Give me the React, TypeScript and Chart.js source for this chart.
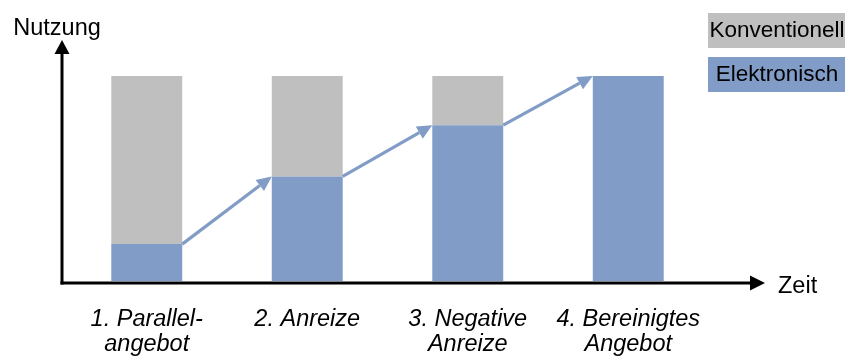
import React, { useEffect, useRef } from 'react';
import { Chart, registerables } from 'chart.js';

Chart.register(...registerables);

const categories: (string | string[])[] = [
  ['1. Parallel-', 'angebot'],
  '2. Anreize',
  ['3. Negative', 'Anreize'],
  ['4. Bereinigtes', 'Angebot'],
];
const elektronisch = [18, 51, 76, 100];
const konventionell = [82, 49, 24, 0];
const seriesNames = ['Elektronisch', 'Konventionell'];
const yAxisTitle = 'Nutzung';
const xAxisTitle = 'Zeit';

const BLUE = '#819cc6';
const GRAY = '#bfbfbf';
const FONT = '"Liberation Sans", Arial, Helvetica, sans-serif';

function drawArrow(ctx: CanvasRenderingContext2D, x1: number, y1: number, x2: number, y2: number, len: number, hw: number) {
  const ang = Math.atan2(y2 - y1, x2 - x1);
  const c = Math.cos(ang), s = Math.sin(ang);
  const bx = x2 - len * c, by = y2 - len * s;
  ctx.beginPath();
  ctx.moveTo(x1, y1);
  ctx.lineTo(bx, by);
  ctx.stroke();
  ctx.beginPath();
  ctx.moveTo(x2, y2);
  ctx.lineTo(bx - hw * s, by + hw * c);
  ctx.lineTo(bx + hw * s, by - hw * c);
  ctx.closePath();
  ctx.fill();
}

const overlay = {
  id: 'overlay',
  afterDatasetsDraw(chart: any) {
    const ctx: CanvasRenderingContext2D = chart.ctx;
    const { left, bottom } = chart.chartArea;
    ctx.save();
    // arrows between blue bars
    const meta = chart.getDatasetMeta(0);
    ctx.strokeStyle = BLUE;
    ctx.fillStyle = BLUE;
    ctx.lineWidth = 3.2;
    ctx.lineCap = 'butt';
    for (let i = 0; i < meta.data.length - 1; i++) {
      const a = meta.data[i];
      const b = meta.data[i + 1];
      drawArrow(ctx, a.x + a.width / 2, a.y, b.x - b.width / 2, b.y, 15, 7);
    }
    // axes
    const ax = left - 4.5;
    const ay = bottom + 2;
    ctx.strokeStyle = '#000';
    ctx.fillStyle = '#000';
    ctx.lineWidth = 3;
    ctx.beginPath();
    ctx.moveTo(ax, ay + 1.5);
    ctx.lineTo(ax, 54);
    ctx.stroke();
    ctx.beginPath();
    ctx.moveTo(ax, 40);
    ctx.lineTo(ax - 7.5, 54);
    ctx.lineTo(ax + 7.5, 54);
    ctx.closePath();
    ctx.fill();
    ctx.beginPath();
    ctx.moveTo(ax - 1.5, ay);
    ctx.lineTo(751, ay);
    ctx.stroke();
    ctx.beginPath();
    ctx.moveTo(765, ay);
    ctx.lineTo(750, ay - 7.5);
    ctx.lineTo(750, ay + 7.5);
    ctx.closePath();
    ctx.fill();
    // axis titles
    ctx.font = `23.5px ${FONT}`;
    ctx.textBaseline = 'alphabetic';
    ctx.textAlign = 'center';
    ctx.fillText(yAxisTitle, 57, 35);
    ctx.textAlign = 'left';
    ctx.fillText(xAxisTitle, 778, 293);
    // legend boxes
    ctx.font = `22.5px ${FONT}`;
    const ds = chart.data.datasets;
    const items = [ds[1], ds[0]];
    items.forEach((d: any, k: number) => {
      const y = 13 + k * 44;
      ctx.fillStyle = d.backgroundColor;
      ctx.fillRect(708, y, 137, 35);
      ctx.fillStyle = '#000';
      ctx.textAlign = 'center';
      ctx.textBaseline = 'middle';
      ctx.fillText(d.label, 777, y + 18);
    });
    ctx.restore();
  },
};

export default function App() {
  const ref = useRef<HTMLCanvasElement | null>(null);
  useEffect(() => {
    if (!ref.current) return;
    const chart = new Chart(ref.current, {
      type: 'bar',
      data: {
        labels: categories as any,
        datasets: [
          {
            label: seriesNames[0],
            data: elektronisch,
            backgroundColor: BLUE,
            borderWidth: 0,
            barPercentage: 0.442,
            categoryPercentage: 1,
          },
          {
            label: seriesNames[1],
            data: konventionell,
            backgroundColor: GRAY,
            borderWidth: 0,
            barPercentage: 0.442,
            categoryPercentage: 1,
          },
        ],
      },
      options: {
        responsive: false,
        animation: false,
        devicePixelRatio: 1,
        layout: { padding: { left: 66.5, right: 136.5, top: 76, bottom: 0 } },
        plugins: { legend: { display: false }, tooltip: { enabled: false } },
        scales: {
          x: {
            stacked: true,
            grid: { display: false, drawTicks: false },
            border: { display: false },
            ticks: {
              padding: 26.5,
              color: '#000',
              autoSkip: false,
              maxRotation: 0,
              minRotation: 0,
              font: { family: FONT, size: 23.5, style: 'italic', lineHeight: 1.06 },
            },
            afterFit: (s: any) => {
              s.height = 77;
            },
          },
          y: { stacked: true, display: false, min: 0, max: 100 },
        },
      },
      plugins: [overlay],
    } as any);
    return () => chart.destroy();
  }, []);
  return (
    <div style={{ position: 'fixed', left: 0, top: 0, width: 845, height: 358, background: '#fff' }}>
      <canvas ref={ref} width={845} height={358} style={{ display: 'block' }} />
    </div>
  );
}
